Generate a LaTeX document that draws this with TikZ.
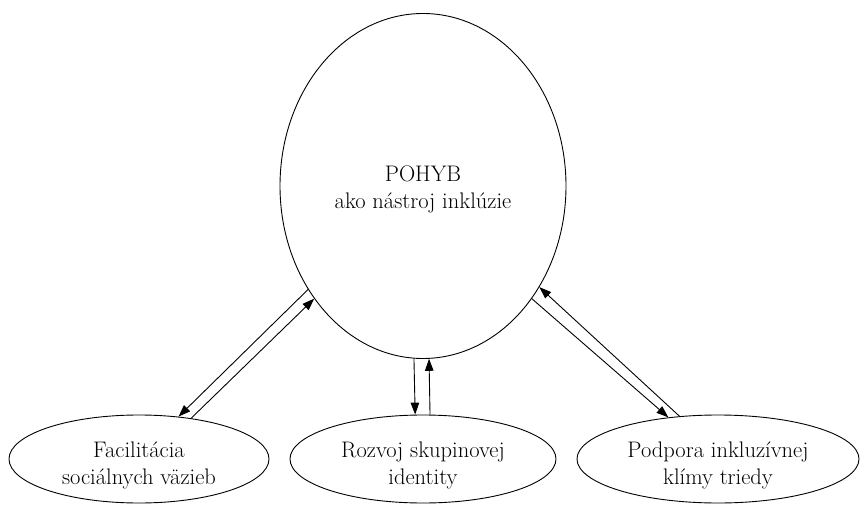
\documentclass[tikz,border=0pt]{standalone}
\usepackage{fontspec}
\usetikzlibrary{shapes.geometric,arrows.meta}
\newcommand{\upstrut}[1]{\rule{0pt}{#1}}
\begin{document}
\begin{tikzpicture}[x=1pt,y=-1pt,
  every node/.style={font=\fontsize{22.5}{27}\selectfont},
  oval/.style={draw,ellipse,line width=0.9pt,inner sep=0pt,align=center},
  link/.style={line width=0.9pt,-{Triangle[length=12pt,width=8.5pt]}}]
\useasboundingbox (0,0) rectangle (860,508);
\node[oval,minimum width=286pt,minimum height=345pt] (top) at (423,186) {\upstrut{22pt}POHYB\\ako nástroj inklúzie};
\node[oval,minimum width=260pt,minimum height=88pt] (l) at (139,459) {\upstrut{28pt}Facilitácia\\sociálnych väzieb};
\node[oval,minimum width=266pt,minimum height=88pt] (m) at (423,459) {\upstrut{28pt}Rozvoj skupinovej\\identity};
\node[oval,minimum width=282pt,minimum height=88pt] (r) at (718,459) {\upstrut{28pt}Podpora inkluzívnej\\klímy triedy};
\draw[link] (top.222.5) -- (l.47);
\draw[link] (l.38.3) -- (top.226.4);
\draw[link] (top.267.4) -- (m.100.5);
\draw[link] (m.81) -- (top.272.3);
\draw[link] (top.314.9) -- (r.140.5);
\draw[link] (r.132.9) -- (top.319.3);
\end{tikzpicture}
\end{document}
